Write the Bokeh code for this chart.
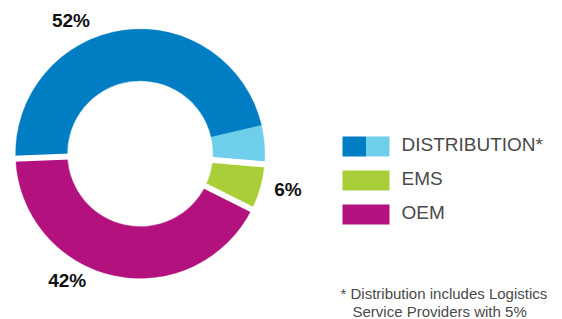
import numpy as np
from bokeh.plotting import figure
from bokeh.models import Range1d, ColumnDataSource
from bokeh.core.properties import value
from bokeh.embed import file_html
from bokeh.resources import INLINE

# ---------------- data ----------------
segments = ["Distribution", "Logistics Service Providers", "EMS", "OEM"]
segment_shares = [47, 5, 6, 42]
segment_groups = ["DISTRIBUTION*", "DISTRIBUTION*", "EMS", "OEM"]
segment_colors = ["#007DC3", "#6FCFEB", "#A8CF38", "#B3117E"]

groups = ["DISTRIBUTION*", "EMS", "OEM"]
group_totals = [52, 6, 42]
footnote_lines = ["* Distribution includes Logistics", "Service Providers with 5%"]

# ---------------- layout ----------------
W, H = 562, 319
FONT = "Liberation Sans"


def sy(y):  # screen y (page pixels) -> data y
    return H - y


p = figure(width=W, height=H, output_backend="svg", toolbar_location=None,
           x_range=Range1d(0, W), y_range=Range1d(0, H),
           x_axis_type=None, y_axis_type=None, min_border=0,
           outline_line_color=None, background_fill_color="white",
           border_fill_color="white")
p.grid.visible = False

cx, cy = 139.7, sy(153.2)
r_in, r_out = 73.0, 124.5
start_deg = 182.3

shares = np.array(segment_shares, dtype=float)
frac = shares / shares.sum()
cum = np.cumsum(frac)
a_start = np.radians(start_deg - 360 * (cum - frac))
a_end = np.radians(start_deg - 360 * cum)

src = ColumnDataSource(dict(start=a_end, end=a_start, color=segment_colors,
                            name=segments))
p.annular_wedge(x=cx, y=cy, inner_radius=r_in, outer_radius=r_out,
                start_angle="start", end_angle="end", direction="anticlock",
                fill_color="color", line_color="color", line_width=0.5,
                source=src)

# white gaps between the groups
gx0, gy0, gx1, gy1 = [], [], [], []
n = len(segments)
for i in range(n):
    if segment_groups[i] != segment_groups[i - 1]:
        a = a_start[i]
        gx0.append(cx + (r_in - 3) * np.cos(a))
        gy0.append(cy + (r_in - 3) * np.sin(a))
        gx1.append(cx + (r_out + 3) * np.cos(a))
        gy1.append(cy + (r_out + 3) * np.sin(a))
p.segment(x0=gx0, y0=gy0, x1=gx1, y1=gy1, line_color="white", line_width=6)

# percentage labels
label_angles = np.radians([117.5, -13.5, 240.0])
label_radius = [150, 152, 146]
lx = [cx + r * np.cos(a) for r, a in zip(label_radius, label_angles)]
ly = [cy + r * np.sin(a) for r, a in zip(label_radius, label_angles)]
p.text(x=lx, y=ly, text=[f"{v}%" for v in group_totals],
       text_font=value(FONT), text_font_style="bold", text_font_size="19px",
       text_color="#111111", text_align="center", text_baseline="middle")

# legend swatches
sw_left, sw_w, sw_h, row0, row_step = 342, 47, 20, 136, 34
ql, qr, qt, qb, qc = [], [], [], [], []
for gi, g in enumerate(groups):
    idx = [i for i in range(n) if segment_groups[i] == g]
    k = len(idx)
    for j, i in enumerate(idx):
        ql.append(sw_left + sw_w * j / k)
        qr.append(sw_left + sw_w * (j + 1) / k)
        qt.append(sy(row0 + row_step * gi))
        qb.append(sy(row0 + row_step * gi + sw_h))
        qc.append(segment_colors[i])
p.quad(left=ql, right=qr, top=qt, bottom=qb, fill_color=qc, line_color=None)

p.text(x=[401] * len(groups),
       y=[sy(row0 + row_step * gi + sw_h / 2 - 1.6) for gi in range(len(groups))],
       text=groups, text_font=value(FONT), text_font_size="19px",
       text_color="#4a4a4a", text_align="left", text_baseline="middle")

# footnote
p.text(x=[340, 352], y=[sy(293.3), sy(311.0)], text=footnote_lines,
       text_font=value(FONT), text_font_size="15px", text_color="#4a4a4a",
       text_align="left", text_baseline="middle")

open("out.html", "w").write(file_html(p, INLINE))
